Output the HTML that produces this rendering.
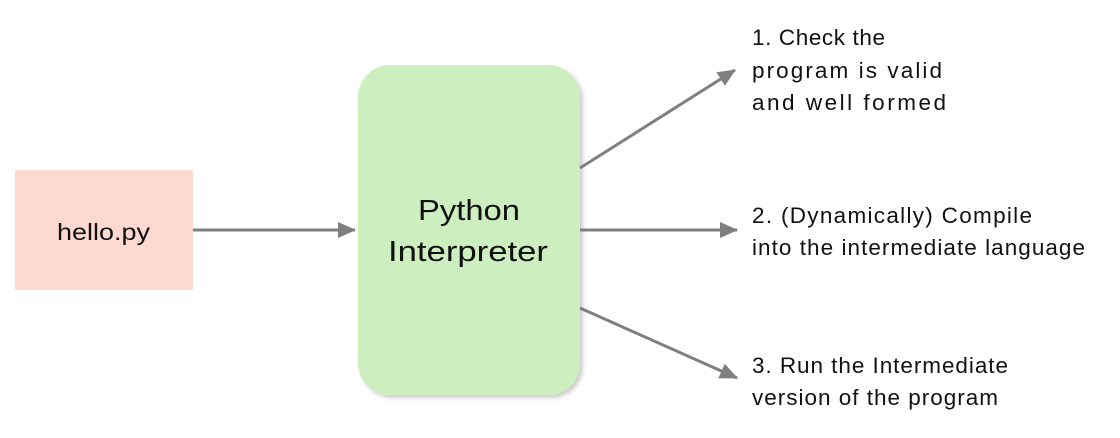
<!DOCTYPE html>
<html><head><style>
body{margin:0;background:#fff;}
svg text{font-family:"Liberation Sans",sans-serif;fill:#111;}
</style></head><body>
<svg width="1120" height="433" viewBox="0 0 1120 433" xmlns="http://www.w3.org/2000/svg">
<defs>
<marker id="b" markerWidth="18" markerHeight="16" refX="17" refY="8" orient="auto" markerUnits="userSpaceOnUse" viewBox="0 0 18 16">
<path d="M0,0 L18,8 L0,16 z" fill="#7f7f7f"/>
</marker>
<filter id="s" x="-10%" y="-10%" width="130%" height="130%"><feDropShadow dx="3" dy="3" stdDeviation="2" flood-color="#000" flood-opacity="0.2"/></filter>
</defs>
<rect x="15" y="170" width="178" height="120" fill="#fdd9d2"/>
<text x="57" y="240" font-size="23" textLength="93" lengthAdjust="spacingAndGlyphs">hello.py</text>
<rect x="358" y="65" width="222" height="330" rx="32" fill="#cdefc0" filter="url(#s)"/>
<text x="418" y="220" font-size="29" textLength="102" lengthAdjust="spacingAndGlyphs">Python</text>
<text x="388" y="261" font-size="29" textLength="160" lengthAdjust="spacingAndGlyphs">Interpreter</text>
<g stroke="#7f7f7f" stroke-width="3" fill="none">
<line x1="193" y1="230" x2="355" y2="230" marker-end="url(#b)"/>
<line x1="580" y1="168" x2="735" y2="70" marker-end="url(#b)"/>
<line x1="580" y1="230" x2="737" y2="230" marker-end="url(#b)"/>
<line x1="580" y1="308" x2="737" y2="378" marker-end="url(#b)"/>
</g>
<g font-size="22.5" lengthAdjust="spacingAndGlyphs">
<text x="752" y="45" textLength="133">1. Check the</text>
<text x="752" y="78" textLength="190">program is valid</text>
<text x="752" y="110" textLength="194">and well formed</text>
<text x="752" y="223" textLength="280">2. (Dynamically) Compile</text>
<text x="752" y="255" textLength="333">into the intermediate language</text>
<text x="752" y="373" textLength="256">3. Run the Intermediate</text>
<text x="752" y="405" textLength="246">version of the program</text>
</g>
</svg>
</body></html>
